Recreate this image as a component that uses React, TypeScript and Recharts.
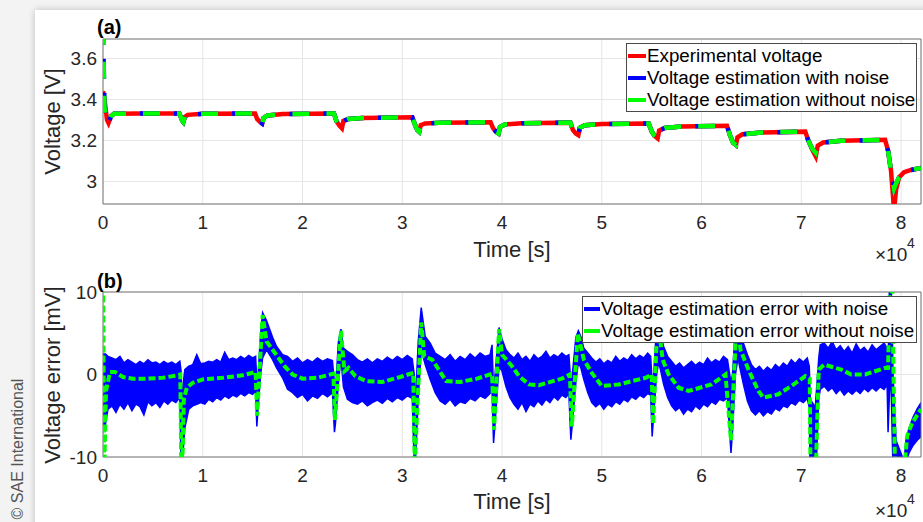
import React from 'react';
import { ComposedChart, Line, Area, XAxis, YAxis, CartesianGrid, ReferenceArea, Legend } from 'recharts';

const FONT = '"Liberation Sans", Arial, Helvetica, sans-serif';
const AXIS_TEXT = '#262626';

const timeTicks = [0, 10000, 20000, 30000, 40000, 50000, 60000, 70000, 80000];
const timeTickLabels = ['0', '1', '2', '3', '4', '5', '6', '7', '8'];
const voltTicks = [3, 3.2, 3.4, 3.6];
const voltTickLabels = ['3', '3.2', '3.4', '3.6'];
const errTicks = [-10, 0, 10];
const errTickLabels = ['-10', '0', '10'];

const legendA = ['Experimental voltage', 'Voltage estimation with noise', 'Voltage estimation without noise'];
const legendAColors = ['#ff0000', '#0000ff', '#00ff00'];
const legendB = ['Voltage estimation error with noise', 'Voltage estimation error without noise'];
const legendBColors = ['#0000ff', '#00ff00'];

// [time s, experimental V, estimation (without noise) V]
const voltRows: [number, number, number][] = [
  [0, 3.44, 3.75], [150, 3.40, 3.36], [400, 3.30, 3.30], [550, 3.285, 3.285], [800, 3.318, 3.318],
  [1100, 3.33, 3.33], [4000, 3.332, 3.332], [7650, 3.331, 3.331], [7800, 3.315, 3.315], [7950, 3.296, 3.296],
  [8050, 3.29, 3.29], [8200, 3.315, 3.315], [8500, 3.325, 3.325], [10000, 3.33, 3.33], [15250, 3.332, 3.332],
  [15450, 3.305, 3.305], [15750, 3.29, 3.29], [15950, 3.283, 3.283], [16100, 3.31, 3.31], [16500, 3.322, 3.322],
  [18000, 3.329, 3.329], [23150, 3.332, 3.332], [23400, 3.295, 3.295], [23700, 3.272, 3.272], [23950, 3.259, 3.266],
  [24100, 3.295, 3.295], [24600, 3.305, 3.305], [26000, 3.31, 3.31], [31000, 3.313, 3.313], [31250, 3.28, 3.28],
  [31500, 3.252, 3.252], [31700, 3.243, 3.243], [31850, 3.275, 3.275], [32300, 3.283, 3.283], [34000, 3.287, 3.287],
  [38850, 3.289, 3.289], [39100, 3.26, 3.26], [39400, 3.242, 3.242], [39650, 3.234, 3.234], [39800, 3.266, 3.266],
  [40300, 3.278, 3.278], [42000, 3.284, 3.284], [46850, 3.287, 3.287], [47100, 3.252, 3.252], [47400, 3.234, 3.234],
  [47650, 3.226, 3.226], [47800, 3.262, 3.262], [48300, 3.274, 3.274], [50000, 3.28, 3.28], [54700, 3.283, 3.283],
  [55000, 3.245, 3.245], [55300, 3.222, 3.222], [55600, 3.21, 3.21], [55750, 3.248, 3.248], [56300, 3.261, 3.261],
  [58000, 3.268, 3.268], [62550, 3.272, 3.272], [62850, 3.225, 3.225], [63150, 3.19, 3.19], [63450, 3.178, 3.178],
  [63600, 3.215, 3.215], [64100, 3.23, 3.23], [66000, 3.239, 3.239], [70400, 3.243, 3.243], [70700, 3.2, 3.2],
  [71100, 3.155, 3.16], [71450, 3.122, 3.14], [71650, 3.175, 3.175], [72200, 3.19, 3.19], [74000, 3.198, 3.198],
  [78400, 3.203, 3.203], [78700, 3.15, 3.15], [79000, 3.05, 3.05], [79300, 2.86, 2.965], [79500, 2.96, 2.99],
  [79800, 3.02, 3.02], [80300, 3.045, 3.045], [81000, 3.056, 3.056], [82000, 3.066, 3.066],
];

// [time s, error mV] estimation error without noise
const errNoNoise: [number, number][] = [
  [0, 12], [120, -12], [300, -2], [700, 0.3], [1200, 0.3], [2000, -0.3], [3000, -0.5], [4500, -0.5], [6000, -0.4],
  [7500, -0.1], [7750, 0], [7850, -12], [8000, -9], [8100, -3], [8400, -1.6], [9000, -1.0], [10000, -0.6],
  [12000, -0.4], [14000, -0.1], [15300, 0.3], [15450, -5], [16000, 7.2], [16400, 4.0], [17000, 3.0], [17600, 2.0],
  [18200, 1.0], [19000, 0], [20000, -0.5], [21500, -0.4], [23100, 0.1], [23250, -5.5], [23850, 5.3], [24200, 0.4],
  [24600, 0.8], [25300, -0.2], [26400, -0.8], [28000, -0.9], [29800, -0.3], [31100, 0.2], [31250, -11], [31900, 6.3],
  [32200, 2.2], [33000, 1.8], [34400, -0.8], [35800, -0.9], [37500, -0.5], [39000, 0.1], [39200, -6.7], [39700, 5.5],
  [40000, 2.4], [41000, 1.0], [41700, -0.2], [42700, -1.2], [43700, -1.3], [46000, -0.5], [46800, 0], [47000, -6.3],
  [47600, 5.0], [48200, 1.8], [49000, 0.2], [50000, -1.4], [51700, -1.2], [54400, -0.4], [55000, 0], [55150, -6],
  [55600, 7], [56100, 1.8], [56700, 0], [57700, -1.6], [58700, -2.0], [61000, -1.2], [62400, 0], [62950, -8],
  [63550, 7.5], [63900, 3.0], [64700, 0.6], [65700, -2.0], [66200, -2.8], [67700, -2.4], [69000, -1.4], [70400, -0.2],
  [70850, -0.5], [70950, -16], [71350, -16], [71750, 0.6], [72300, 1.2], [74000, 0.6], [75000, 0], [76400, 0],
  [78400, 0.8], [78700, 0.8], [78900, 12], [79100, 12], [79400, -12], [80300, -12], [80600, -7.5], [81100, -5.9],
  [82000, -4.2],
];

// [time s, low mV, high mV] envelope of the noisy estimation error
const errNoiseBand: [number, number, number][] = [
  [0, -7, 2.5], [250, -6, 2.5], [500, -4.2, 2.2], [900, -3.8, 2.0], [1300, -4.6, 1.8], [1700, -3.6, 2.2],
  [2100, -4.2, 1.4], [2500, -3.4, 1.8], [2900, -4.4, 1.5], [3300, -3.6, 1.2], [3700, -3.9, 1.6], [4100, -4.9, 1.3],
  [4500, -3.3, 1.8], [4900, -3.8, 1.4], [5300, -3.4, 1.5], [5700, -4.0, 1.2], [6100, -3.2, 1.6], [6500, -3.6, 1.3],
  [6900, -3.1, 1.5], [7300, -3.4, 1.2], [7700, -2.8, 1.6],
  [7820, -10.5, 0.5], [7900, -11, -3], [8050, -9, -1], [8200, -6.5, 0.6],
  [8600, -4.2, 1.0], [9000, -3.8, 1.2], [9400, -3.6, 2.4], [9800, -3.4, 1.3], [10200, -3.6, 1.4], [10600, -3.0, 1.6],
  [11000, -3.3, 1.5], [11400, -2.8, 1.8], [11800, -3.1, 1.5], [12200, -2.6, 2.7], [12600, -2.9, 1.8], [13000, -2.5, 2.0],
  [13400, -2.7, 1.8], [13800, -2.3, 2.2], [14200, -2.6, 1.9], [14600, -2.2, 2.3], [15000, -2.4, 2.0], [15300, -2.0, 2.2],
  [15420, -6.3, -1], [15550, -4, 0], [15800, 0, 5],
  [16000, 2.0, 7.5], [16400, 3.0, 6.5], [17000, 1.8, 4.5], [17400, 0.8, 3.4], [18000, -0.4, 2.4], [18500, -1.8, 2.2],
  [19000, -2.2, 1.6], [19500, -2.8, 2.0], [20000, -2.4, 1.4], [20500, -3.2, 1.8], [21000, -2.6, 1.5], [21500, -2.9, 2.0],
  [22000, -2.3, 1.6], [22500, -2.7, 1.9], [23000, -2.2, 1.7],
  [23200, -7, -1], [23300, -6, -2], [23600, -1, 4], [23850, 2, 5.5],
  [24100, -1.5, 3.2], [24500, -3.0, 2.8], [25000, -3.4, 2.4], [25500, -3.6, 1.8], [26000, -3.2, 1.5], [26500, -3.8, 1.9],
  [27000, -3.4, 1.4], [27500, -3.1, 1.9], [28000, -3.5, 1.6], [28500, -2.9, 2.1], [29000, -3.3, 1.7], [29500, -2.8, 2.2],
  [30000, -3.1, 1.8], [30500, -2.6, 2.3], [31000, -2.9, 1.9],
  [31200, -11, 0], [31300, -11, -4], [31600, -3, 4], [31900, 3, 8.1],
  [32300, 1.2, 4.6], [32800, -0.6, 3.8], [33300, -2.2, 2.6], [33800, -3.2, 2.2], [34300, -3.6, 1.8], [34800, -3.0, 2.4],
  [35300, -3.8, 1.6], [35800, -3.3, 2.2], [36300, -3.5, 1.8], [36800, -2.9, 2.5], [37300, -3.2, 2.0], [37800, -2.6, 2.6],
  [38300, -2.9, 2.2], [38800, -2.3, 2.4], [39000, -2.0, 3.6],
  [39150, -8.3, -2], [39300, -6, 0], [39700, 1, 5.7],
  [40000, 0.4, 4.3], [40400, -1.5, 3.0], [40800, -2.8, 2.4], [41200, -3.6, 2.0], [41600, -4.2, 2.6], [42000, -3.4, 1.8],
  [42400, -4.5, 2.2], [42800, -3.6, 1.6], [43200, -3.9, 2.4], [43600, -3.2, 1.9], [44000, -3.7, 2.2], [44400, -3.0, 2.8],
  [44800, -3.4, 2.0], [45200, -2.7, 2.4], [45600, -3.1, 2.1], [46000, -2.5, 2.6], [46400, -2.8, 2.2], [46700, -2.3, 2.4],
  [46900, -7.9, -1], [47050, -6, 0], [47400, -1, 4.5], [47650, 1.5, 5.3],
  [47900, 0.8, 4.6], [48200, -0.6, 3.2], [48600, -2.2, 2.6], [49000, -3.4, 2.0], [49400, -3.9, 1.5], [49800, -3.5, 1.9],
  [50200, -4.2, 1.3], [50600, -3.6, 1.7], [51000, -3.9, 1.4], [51400, -3.3, 2.2], [51800, -3.6, 1.6], [52200, -3.0, 2.0],
  [52600, -3.3, 1.7], [53000, -2.7, 2.4], [53400, -3.0, 1.9], [53800, -2.5, 2.3], [54200, -2.8, 2.0], [54600, -2.3, 2.6],
  [54900, -2.5, 2.2],
  [55050, -7.5, -1], [55200, -5, 0], [55500, 0, 6], [55700, 1.5, 7],
  [55900, 0.5, 4.8], [56200, -1.2, 3.4], [56600, -2.8, 2.2], [57000, -3.8, 1.6], [57400, -4.4, 1.0], [57800, -4.0, 1.4],
  [58200, -4.8, 0.8], [58600, -4.2, 1.2], [59000, -4.5, 1.6], [59400, -3.8, 1.1], [59800, -4.2, 1.5], [60200, -3.6, 1.2],
  [60600, -3.9, 2.0], [61000, -3.3, 1.4], [61400, -3.6, 1.8], [61800, -3.0, 1.5], [62200, -3.2, 2.2], [62600, -2.8, 1.8],
  [62950, -9.5, -1], [63100, -7, 0], [63400, 0, 6], [63650, 2, 8],
  [63900, 0.5, 5.5], [64200, -1.2, 3.8], [64600, -3.2, 2.4], [65000, -4.4, 1.2], [65400, -4.9, 0.6], [65800, -4.4, 1.0],
  [66200, -5.0, 0.4], [66600, -4.5, 0.9], [67000, -4.8, 0.5], [67400, -4.1, 1.2], [67800, -4.4, 0.8], [68200, -3.8, 1.4],
  [68600, -4.0, 1.0], [69000, -3.4, 1.8], [69400, -3.7, 1.3], [69800, -3.1, 1.9], [70200, -3.4, 1.5], [70600, -2.9, 2.0],
  [70800, -4, 1.0], [70900, -14, -3], [71400, -14, -4], [71750, -3, 2],
  [71900, -1.8, 3.6], [72300, -1.4, 3.8], [72700, -2.0, 3.2], [73100, -1.6, 4.0], [73500, -2.3, 3.0], [73900, -1.8, 3.5],
  [74300, -2.5, 2.8], [74700, -2.0, 3.4], [75100, -2.4, 2.6], [75500, -1.9, 3.7], [75900, -2.3, 2.9], [76300, -1.7, 3.3],
  [76700, -2.1, 2.7], [77100, -1.6, 3.6], [77500, -2.0, 3.0], [77900, -1.5, 3.4], [78300, -1.8, 3.8], [78600, -1.2, 3.2],
  [78700, -7, 1], [78850, -2, 12], [79000, -1, 12], [79200, -12, 0], [79500, -13, -8], [80300, -13, -10.5],
  [80500, -10.5, -7.9], [80800, -9.5, -6.5], [81200, -8.6, -5.2], [81600, -8.0, -4.2], [82000, -7.5, -3.4],
];

const expData = voltRows.map(([t, e]) => ({ t, v: e }));
const estNoNoiseData = voltRows.map(([t, , g]) => ({ t, v: g }));
const estNoiseData = voltRows.map(([t, , g]) => ({ t, v: g }));
const errLineData = errNoNoise.map(([t, e]) => ({ t, v: e }));
const errBandData = errNoiseBand.map(([t, lo, hi]) => ({ t, range: [lo, hi] }));

const fmtFrom = (ticks: number[], labels: string[]) => (v: number) => {
  const i = ticks.findIndex((x) => Math.abs(x - v) < 1e-9);
  return i >= 0 ? labels[i] : String(v);
};

const tickStyle = { fill: AXIS_TEXT, fontSize: 19, fontFamily: FONT };

function LegendBox({ labels, colors, width, sampleW, gap }: { labels: string[]; colors: string[]; width: number; sampleW: number; gap: number }) {
  return (
    <div
      style={{
        background: '#fff',
        border: '1px solid #4a4a4a',
        width,
        boxSizing: 'border-box',
        padding: '1px 0 0 0',
        fontFamily: FONT,
        fontSize: 18.8,
        color: '#000',
      }}
    >
      {labels.map((l, i) => (
        <div key={l} style={{ display: 'flex', alignItems: 'center', height: 22, whiteSpace: 'nowrap' }}>
          <span style={{ display: 'inline-block', width: sampleW, height: 4, background: colors[i], marginLeft: 1, marginRight: gap }} />
          <span>{l}</span>
        </div>
      ))}
    </div>
  );
}

function TopChart() {
  return (
    <ComposedChart width={923} height={260} margin={{ top: 39, right: 2, bottom: 26, left: 43 }}>
      <CartesianGrid stroke="#e6e6e6" strokeWidth={1} />
      <XAxis
        type="number"
        dataKey="t"
        domain={[0, 82000]}
        ticks={timeTicks}
        interval={0}
        tickFormatter={fmtFrom(timeTicks, timeTickLabels)}
        allowDataOverflow
        height={30}
        tickSize={0}
        tickMargin={12}
        axisLine={false}
        tick={tickStyle}
      />
      <YAxis
        type="number"
        domain={[2.89, 3.695]}
        ticks={voltTicks}
        interval={0}
        tickFormatter={fmtFrom(voltTicks, voltTickLabels)}
        allowDataOverflow
        width={60}
        tickSize={0}
        tickMargin={6}
        axisLine={false}
        tick={tickStyle}
      />
      <Line data={expData} dataKey="v" type="linear" stroke="#ff0000" strokeWidth={4.5} dot={false} activeDot={false} isAnimationActive={false} legendType="none" />
      <Line data={estNoiseData} dataKey="v" type="linear" stroke="#0000ff" strokeWidth={4.5} strokeDasharray="20 14" strokeDashoffset={3} dot={false} activeDot={false} isAnimationActive={false} legendType="none" />
      <Line data={estNoNoiseData} dataKey="v" type="linear" stroke="#00ff00" strokeWidth={4.5} strokeDasharray="17 17" dot={false} activeDot={false} isAnimationActive={false} legendType="none" />
      <ReferenceArea x1={0} x2={82000} y1={2.89} y2={3.695} fill="none" stroke="#777" strokeWidth={1} ifOverflow="visible" />
      <Legend
        layout="vertical"
        align="center"
        verticalAlign="middle"
        wrapperStyle={{ left: 626, top: 43, width: 291 }}
        content={() => <LegendBox labels={legendA} colors={legendAColors} width={291} sampleW={18} gap={1} />}
      />
    </ComposedChart>
  );
}

function BottomChart() {
  return (
    <ComposedChart width={923} height={262} margin={{ top: 32, right: 2, bottom: 35, left: 43 }}>
      <CartesianGrid stroke="#e6e6e6" strokeWidth={1} />
      <XAxis
        type="number"
        dataKey="t"
        domain={[0, 82000]}
        ticks={timeTicks}
        interval={0}
        tickFormatter={fmtFrom(timeTicks, timeTickLabels)}
        allowDataOverflow
        height={30}
        tickSize={0}
        tickMargin={12}
        axisLine={false}
        tick={tickStyle}
      />
      <YAxis
        type="number"
        domain={[-10, 10]}
        ticks={errTicks}
        interval={0}
        tickFormatter={fmtFrom(errTicks, errTickLabels)}
        allowDataOverflow
        width={60}
        tickSize={0}
        tickMargin={6}
        axisLine={false}
        tick={tickStyle}
      />
      <Area data={errBandData} dataKey="range" type="linear" stroke="#0000ff" strokeWidth={1.5} fill="#0000ff" fillOpacity={1} dot={false} activeDot={false} isAnimationActive={false} legendType="none" />
      <Line data={errLineData} dataKey="v" type="linear" stroke="#00ff00" strokeWidth={4} strokeDasharray="7 3" dot={false} activeDot={false} isAnimationActive={false} legendType="none" />
      <ReferenceArea x1={0} x2={82000} y1={-10} y2={10} fill="none" stroke="#777" strokeWidth={1} ifOverflow="visible" />
      <Legend
        layout="vertical"
        align="center"
        verticalAlign="middle"
        wrapperStyle={{ left: 582, top: 36, width: 335 }}
        content={() => <LegendBox labels={legendB} colors={legendBColors} width={335} sampleW={16} gap={1} />}
      />
    </ComposedChart>
  );
}

export default function App() {
  return (
    <div style={{ position: 'absolute', left: 0, top: 0, width: 923, height: 522, overflow: 'hidden', background: '#f3f3f3' }}>
      <div style={{ position: 'absolute', left: 35, top: 10, width: 900, height: 530, background: '#fff', boxShadow: '0 0 7px rgba(0,0,0,0.22)' }} />
      <div style={{ position: 'absolute', left: 0, top: 0 }}>
        <TopChart />
      </div>
      <div style={{ position: 'absolute', left: 0, top: 260 }}>
        <BottomChart />
      </div>
      <svg width={923} height={522} style={{ position: 'absolute', left: 0, top: 0, pointerEvents: 'none' }} fontFamily={FONT}>
        <text x={97} y={34} fontSize={20} fontWeight="bold" fill="#000">(a)</text>
        <text x={97} y={288} fontSize={20} fontWeight="bold" fill="#000">(b)</text>
        <text transform="translate(60,121.5) rotate(-90)" textAnchor="middle" fontSize={22} fill={AXIS_TEXT}>Voltage [V]</text>
        <text transform="translate(60,375) rotate(-90)" textAnchor="middle" fontSize={22} fill={AXIS_TEXT}>Voltage error [mV]</text>
        <text x={512} y={257} textAnchor="middle" fontSize={22} fill={AXIS_TEXT}>Time [s]</text>
        <text x={512} y={509} textAnchor="middle" fontSize={22} fill={AXIS_TEXT}>Time [s]</text>
        <text x={875} y={261} fontSize={19} fill={AXIS_TEXT}>×10</text>
        <text x={907} y={248} fontSize={14} fill={AXIS_TEXT}>4</text>
        <text x={875} y={517} fontSize={19} fill={AXIS_TEXT}>×10</text>
        <text x={907} y={504} fontSize={14} fill={AXIS_TEXT}>4</text>
        <text transform="translate(23,449) rotate(-90)" textAnchor="middle" fontSize={16} fill="#555">© SAE International</text>
      </svg>
    </div>
  );
}
